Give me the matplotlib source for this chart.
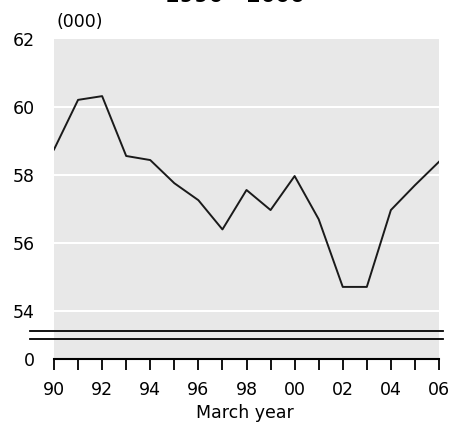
import matplotlib
matplotlib.use("Agg")
import matplotlib.pyplot as plt
from matplotlib.lines import Line2D

plt.rcParams['font.family'] = ['DejaVu Sans']

years = list(range(1990, 2007))
values = [58.75, 60.21, 60.32, 58.56, 58.44, 57.76, 57.26, 56.40, 57.56,
          56.97, 57.97, 56.70, 54.71, 54.71, 56.97, 57.70, 58.39]
ytick_vals = [54, 56, 58, 60, 62]
ytick_labels = ["54", "56", "58", "60", "62"]
xtick_labels = ["90", "92", "94", "96", "98", "00", "02", "04", "06"]
y_bottom = 52.59
break_vals = [53.41, 53.18]

FS = 12.5

fig = plt.figure(figsize=(4.61, 4.28), dpi=100)
ax = fig.add_axes([54/461, 1-359/428, 385/461, 320/428])
ax.set_facecolor('#e8e8e8')
ax.set_xlim(1990, 2006)
ax.set_ylim(y_bottom, 62)

for v in ytick_vals[:-1]:
    ax.axhline(v, color='white', lw=1.5, zorder=1)

ax.plot(years, values, color='#1a1a1a', lw=1.4, zorder=3)

for s in ['top', 'right', 'left']:
    ax.spines[s].set_visible(False)
ax.spines['bottom'].set_color('black')
ax.spines['bottom'].set_linewidth(1.5)

ax.set_yticks([y_bottom] + ytick_vals)
ax.set_yticklabels(["0"] + ytick_labels, fontsize=FS)
ax.tick_params(axis='y', length=0, pad=14)

ax.set_xticks(years)
ax.set_xticklabels([xtick_labels[i // 2] if i % 2 == 0 else "" for i in range(len(years))], fontsize=FS)
ax.tick_params(axis='x', direction='out', length=8, width=1.3, color='black', pad=8)

# break lines
for bv in break_vals:
    yfig = ax.transData.transform((1990, bv))[1] / fig.bbox.height
    fig.add_artist(Line2D([30/461, 443/461], [yfig, yfig], color='black', lw=1.3))

fig.text(56/461, 1-22/428, "(000)", fontsize=FS, ha='left', va='center')
fig.text(245/461, 1-413/428, "March year", fontsize=FS, ha='center', va='center')
fig.text(235/461, 1-1.5/428, "1990 - 2006", fontsize=15, ha='center', va='baseline',
         fontweight='bold')

fig.savefig("out.png", dpi=100, facecolor='white')
